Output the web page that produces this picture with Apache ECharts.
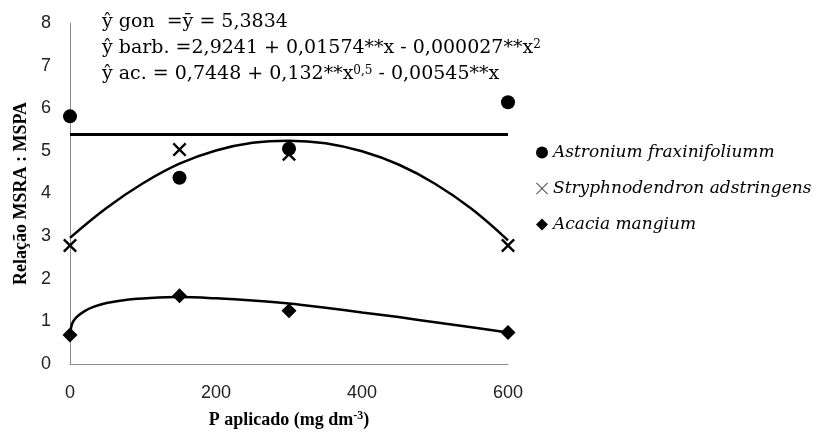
<!DOCTYPE html>
<html>
<head>
<meta charset="UTF-8">
<title>Relação MSRA : MSPA</title>
<script type="text/javascript" src="https://cdn.jsdelivr.net/npm/echarts@6/dist/echarts.min.js"></script>
<style>
	html, body { margin: 0; padding: 0; background: #fff; }
	#main { width: 814px; height: 434px; }
</style>
</head>
<body>
	<div id="main"></div>
	<script type="text/javascript">
		// doses de P (mg dm-3)
		var doses = [0, 150, 300, 600];
		var xTicks = [0, 200, 400, 600];
		var yTicks = [0, 1, 2, 3, 4, 5, 6, 7, 8];

		// valores observados
		var astronium = [5.81, 4.37, 5.05, 6.14];
		var stryphno = [2.78, 5.03, 4.92, 2.78];
		var acacia = [0.68, 1.60, 1.25, 0.74];

		// media (gon)
		var mediaGon = 5.3834;

		// curvas ajustadas
		var curvaStryX = [0, 50, 100, 150, 200, 250, 300, 350, 400, 450, 500, 550, 600];
		var curvaStryY = [2.96, 3.66, 4.24, 4.70, 5.01, 5.19, 5.24, 5.18, 4.99, 4.68, 4.23, 3.64, 2.90];
		var curvaAcaX = [0, 3, 9, 20, 32, 50, 78, 110, 150, 200, 250, 300, 350, 400, 450, 500, 550, 600];
		var curvaAcaY = [0.70, 0.95, 1.10, 1.24, 1.34, 1.43, 1.51, 1.55, 1.57, 1.54, 1.49, 1.42, 1.32, 1.21, 1.10, 0.98, 0.86, 0.74];

		var nomes = ['Astronium fraxinifoliumm', 'Stryphnodendron adstringens', 'Acacia mangium'];

		var xPath = 'path://M0,1.2 L1.2,0 L5,3.8 L8.8,0 L10,1.2 L6.2,5 L10,8.8 L8.8,10 L5,6.2 L1.2,10 L0,8.8 L3.8,5 Z';
		var xPathFino = 'path://M0,0.6 L0.6,0 L5,4.4 L9.4,0 L10,0.6 L5.6,5 L10,9.4 L9.4,10 L5,5.6 L0.6,10 L0,9.4 L4.4,5 Z';

		function pares(xs, ys) {
			var r = [];
			for (var i = 0; i < xs.length; i++) r.push([xs[i], ys[i]]);
			return r;
		}

		var serif = '"Liberation Serif", "Times New Roman", serif';
		var serifLarga = '"DejaVu Serif", serif';

		var myChart = echarts.init(document.getElementById('main'));
		var option = {
			animation: false,
			backgroundColor: '#fff',
			grid: { left: 70, right: 306, top: 23, bottom: 68 },
			xAxis: {
				type: 'value',
				min: xTicks[0],
				max: xTicks[xTicks.length - 1],
				interval: 200,
				splitLine: { show: false },
				axisTick: { show: false },
				axisLine: { lineStyle: { color: '#8c8c8c', width: 1 } },
				axisLabel: { color: '#222', fontSize: 18, fontFamily: '"Liberation Sans", Arial, sans-serif', margin: 20 },
				name: '{t|P aplicado (mg dm}{s|-3}{t|)}',
				nameLocation: 'middle',
				nameGap: 46,
				nameTextStyle: {
					rich: {
						t: { fontFamily: serif, fontWeight: 'bold', fontSize: 18, color: '#000' },
						s: { fontFamily: serif, fontWeight: 'bold', fontSize: 12, color: '#000', verticalAlign: 'top', padding: [0, 0, 8, 0] }
					}
				}
			},
			yAxis: {
				type: 'value',
				min: yTicks[0],
				max: yTicks[yTicks.length - 1],
				interval: 1,
				splitLine: { show: false },
				axisTick: { show: false },
				axisLine: { show: true, lineStyle: { color: '#8c8c8c', width: 1 } },
				axisLabel: { color: '#222', fontSize: 18, fontFamily: '"Liberation Sans", Arial, sans-serif', margin: 19 },
				name: 'Relação MSRA : MSPA',
				nameLocation: 'middle',
				nameGap: 38,
				nameTextStyle: { fontFamily: serif, fontWeight: 'bold', fontSize: 18, color: '#000' }
			},
			legend: {
				orient: 'vertical',
				left: 531,
				top: 139,
				itemWidth: 12,
				itemHeight: 12,
				itemGap: 19,
				textStyle: { fontFamily: serifLarga, fontStyle: 'italic', fontSize: 17, color: '#000' },
				data: [
					{ name: nomes[0], icon: 'circle' },
					{ name: nomes[1], icon: xPathFino, itemStyle: { color: '#555' } },
					{ name: nomes[2], icon: 'diamond' }
				]
			},
			graphic: [
				{
					type: 'text', left: 102, top: 13,
					style: { text: 'ŷ gon  =ȳ = 5,3834', font: '19px ' + serifLarga, fill: '#000' }
				},
				{
					type: 'text', left: 102, top: 39,
					style: {
						text: '{t|ŷ barb. =2,9241 + 0,01574**x - 0,000027**x}{s|2}',
						rich: {
							t: { font: '19px ' + serifLarga, fill: '#000' },
							s: { font: '12px ' + serifLarga, fill: '#000', verticalAlign: 'top' }
						}
					}
				},
				{
					type: 'text', left: 102, top: 65,
					style: {
						text: '{t|ŷ ac. = 0,7448 + 0,132**x}{s|0,5}{t| - 0,00545**x}',
						rich: {
							t: { font: '19px ' + serifLarga, fill: '#000' },
							s: { font: '12px ' + serifLarga, fill: '#000', verticalAlign: 'top' }
						}
					}
				}
			],
			series: [
				{
					name: 'media',
					type: 'line',
					data: [[xTicks[0], mediaGon], [xTicks[xTicks.length - 1], mediaGon]],
					symbol: 'none',
					lineStyle: { color: '#000', width: 3 },
					silent: true, z: 1
				},
				{
					name: 'curvaStry',
					type: 'line',
					data: pares(curvaStryX, curvaStryY),
					smooth: 0.4,
					symbol: 'none',
					lineStyle: { color: '#000', width: 2.5 },
					silent: true, z: 1
				},
				{
					name: 'curvaAca',
					type: 'line',
					data: pares(curvaAcaX, curvaAcaY),
					smooth: 0.3,
					symbol: 'none',
					lineStyle: { color: '#000', width: 2.5 },
					silent: true, z: 1
				},
				{
					name: nomes[0],
					type: 'scatter',
					data: pares(doses, astronium),
					symbol: 'circle',
					symbolSize: 14,
					itemStyle: { color: '#000', opacity: 1 },
					z: 3
				},
				{
					name: nomes[1],
					type: 'scatter',
					data: pares(doses, stryphno),
					symbol: xPath,
					symbolSize: 14,
					itemStyle: { color: '#000', opacity: 1 },
					z: 3
				},
				{
					name: nomes[2],
					type: 'scatter',
					data: pares(doses, acacia),
					symbol: 'diamond',
					symbolSize: 15,
					itemStyle: { color: '#000', opacity: 1 },
					z: 3
				}
			]
		};
		myChart.setOption(option);
	</script>
</body>
</html>
